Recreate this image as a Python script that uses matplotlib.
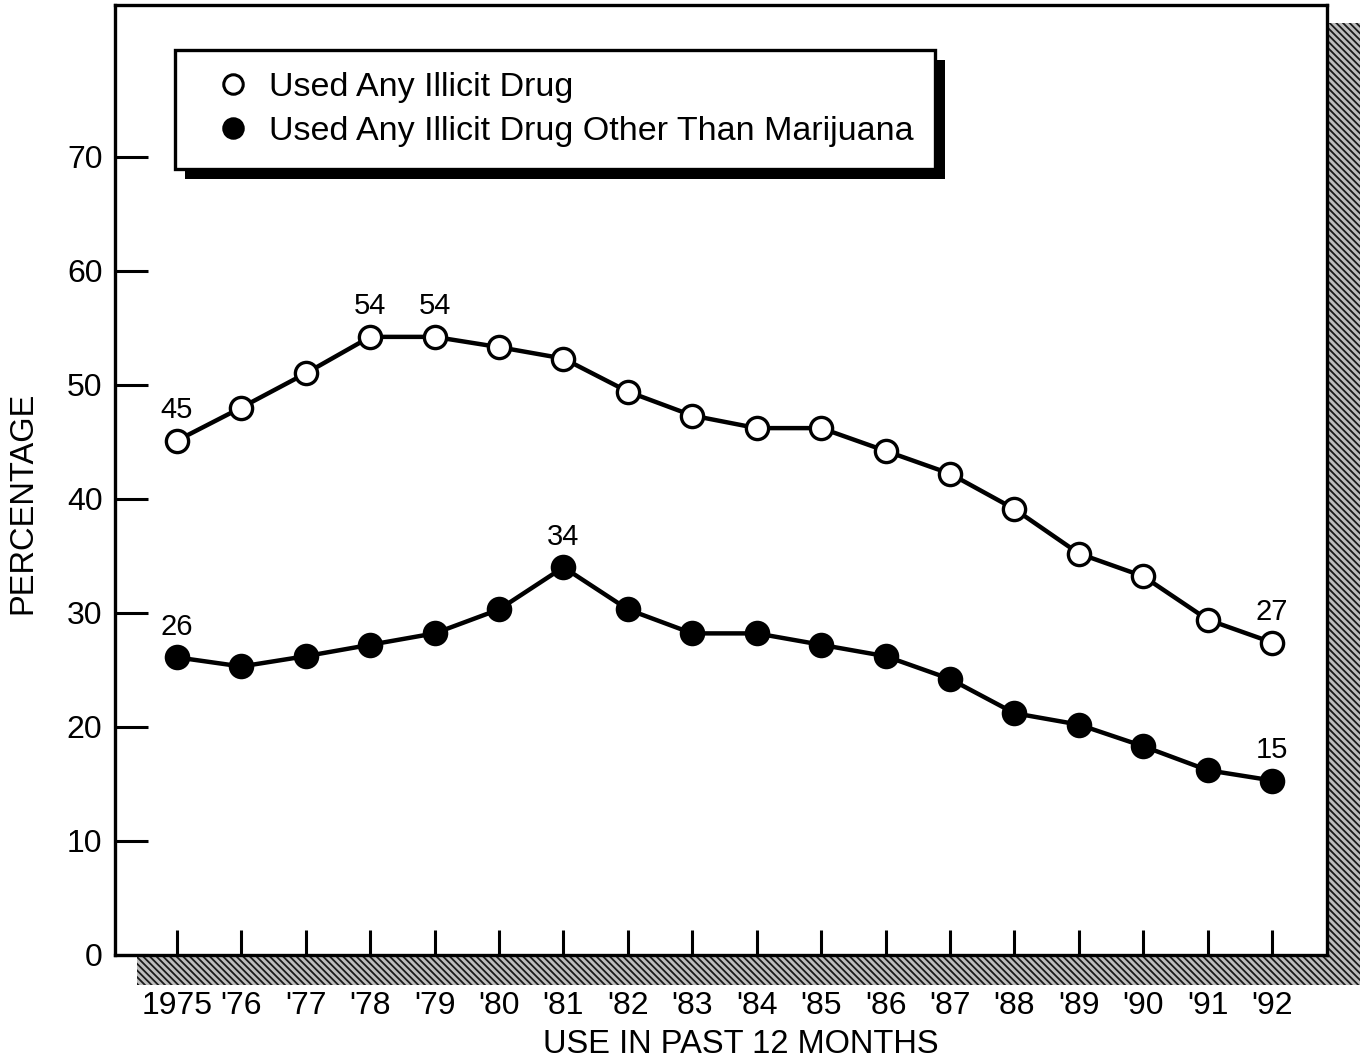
import matplotlib
matplotlib.use("Agg")
import matplotlib.pyplot as plt
from matplotlib.patches import Rectangle
from matplotlib.lines import Line2D

plt.rcParams['font.family'] = ['Liberation Sans', 'DejaVu Sans']
plt.rcParams['hatch.linewidth'] = 1.3

years = [1975, 1976, 1977, 1978, 1979, 1980, 1981, 1982, 1983,
         1984, 1985, 1986, 1987, 1988, 1989, 1990, 1991, 1992]
year_labels = ["1975", "'76", "'77", "'78", "'79", "'80", "'81", "'82", "'83",
               "'84", "'85", "'86", "'87", "'88", "'89", "'90", "'91", "'92"]
any_drug = [45.1, 48.0, 51.0, 54.2, 54.2, 53.3, 52.3, 49.4, 47.3,
            46.2, 46.2, 44.2, 42.2, 39.1, 35.2, 33.2, 29.4, 27.4]
other_than_mj = [26.1, 25.3, 26.2, 27.2, 28.2, 30.3, 34.0, 30.3, 28.2,
                 28.2, 27.2, 26.2, 24.2, 21.2, 20.2, 18.3, 16.2, 15.3]
any_labels = {1975: "45", 1978: "54", 1979: "54", 1992: "27"}
other_labels = {1975: "26", 1981: "34", 1992: "15"}
yticks = [0, 10, 20, 30, 40, 50, 60, 70]

W, H = 1366, 1061
fig = plt.figure(figsize=(W / 100, H / 100), dpi=100)
fig.patch.set_facecolor('white')

ax_l, ax_r, ax_t, ax_b = 115, 1327, 5, 955
ax = fig.add_axes([ax_l / W, 1 - ax_b / H, (ax_r - ax_l) / W, (ax_b - ax_t) / H])
ax.set_zorder(2)
ax.patch.set_facecolor('white')

# hatched drop shadow behind the axes
sh = Rectangle(((ax_l + 22) / W, 1 - 985 / H), (1360 - ax_l - 22) / W, (985 - 23) / H,
               transform=fig.transFigure, facecolor='#bdbdbd', edgecolor='#1a1a1a',
               hatch='\\\\\\\\\\', linewidth=0, zorder=0)
fig.patches.append(sh)

ax.plot(years, any_drug, color='black', lw=3.2, marker='o', ms=16,
        mfc='white', mec='black', mew=2.4, zorder=3, clip_on=False)
ax.plot(years, other_than_mj, color='black', lw=3.2, marker='o', ms=16,
        mfc='black', mec='black', mew=2.4, zorder=3, clip_on=False)

for yr, txt in any_labels.items():
    v = any_drug[years.index(yr)]
    ax.annotate(txt, (yr, v), xytext=(0, 12), textcoords='offset points',
                ha='center', va='bottom', fontsize=21)
for yr, txt in other_labels.items():
    v = other_than_mj[years.index(yr)]
    ax.annotate(txt, (yr, v), xytext=(0, 12), textcoords='offset points',
                ha='center', va='bottom', fontsize=21)

ax.set_xlim(1974.04, 1992.85)
ax.set_ylim(0, 83.3)
ax.set_xticks(years)
ax.set_xticklabels(year_labels)
ax.set_yticks(yticks)
ax.tick_params(axis='x', direction='in', length=18, width=2.2, pad=26, labelsize=23)
ax.tick_params(axis='y', direction='in', length=24, width=2.2, pad=9, labelsize=23)
for s in ax.spines.values():
    s.set_linewidth(2.4)

ax.set_xlabel("USE IN PAST 12 MONTHS", fontsize=23.5)
ax.set_ylabel("PERCENTAGE", fontsize=23.5)
ax.xaxis.set_label_coords((741 - ax_l) / (ax_r - ax_l), -(1029 - ax_b) / (ax_b - ax_t))
ax.yaxis.set_label_coords(-(ax_l - 38) / (ax_r - ax_l), (ax_b - 503) / (ax_b - ax_t))

handles = [Line2D([], [], ls='none', marker='o', ms=14, mfc='white', mec='black', mew=2.2),
           Line2D([], [], ls='none', marker='o', ms=14, mfc='black', mec='black', mew=2.2)]
leg = ax.legend(handles, ["Used Any Illicit Drug",
                          "Used Any Illicit Drug Other Than Marijuana"],
                loc='upper left', bbox_to_anchor=(0.0495, 0.9526), borderaxespad=0,
                fontsize=24.5, frameon=True, fancybox=False, edgecolor='black',
                framealpha=1, handlelength=2.1, handletextpad=0.0,
                borderpad=0.65, labelspacing=0.38)
leg.get_frame().set_linewidth(2.4)
leg.set_zorder(5)

fig.canvas.draw()
bb = leg.get_window_extent()
shadow = Rectangle(((bb.x0 + 10) / W, (bb.y0 - 10) / H), bb.width / W, bb.height / H,
                   transform=fig.transFigure, facecolor='black', edgecolor='none',
                   zorder=4)
ax.add_artist(shadow)
shadow.set_transform(fig.transFigure)
shadow.set_clip_on(False)

fig.savefig("out.png", dpi=100)
